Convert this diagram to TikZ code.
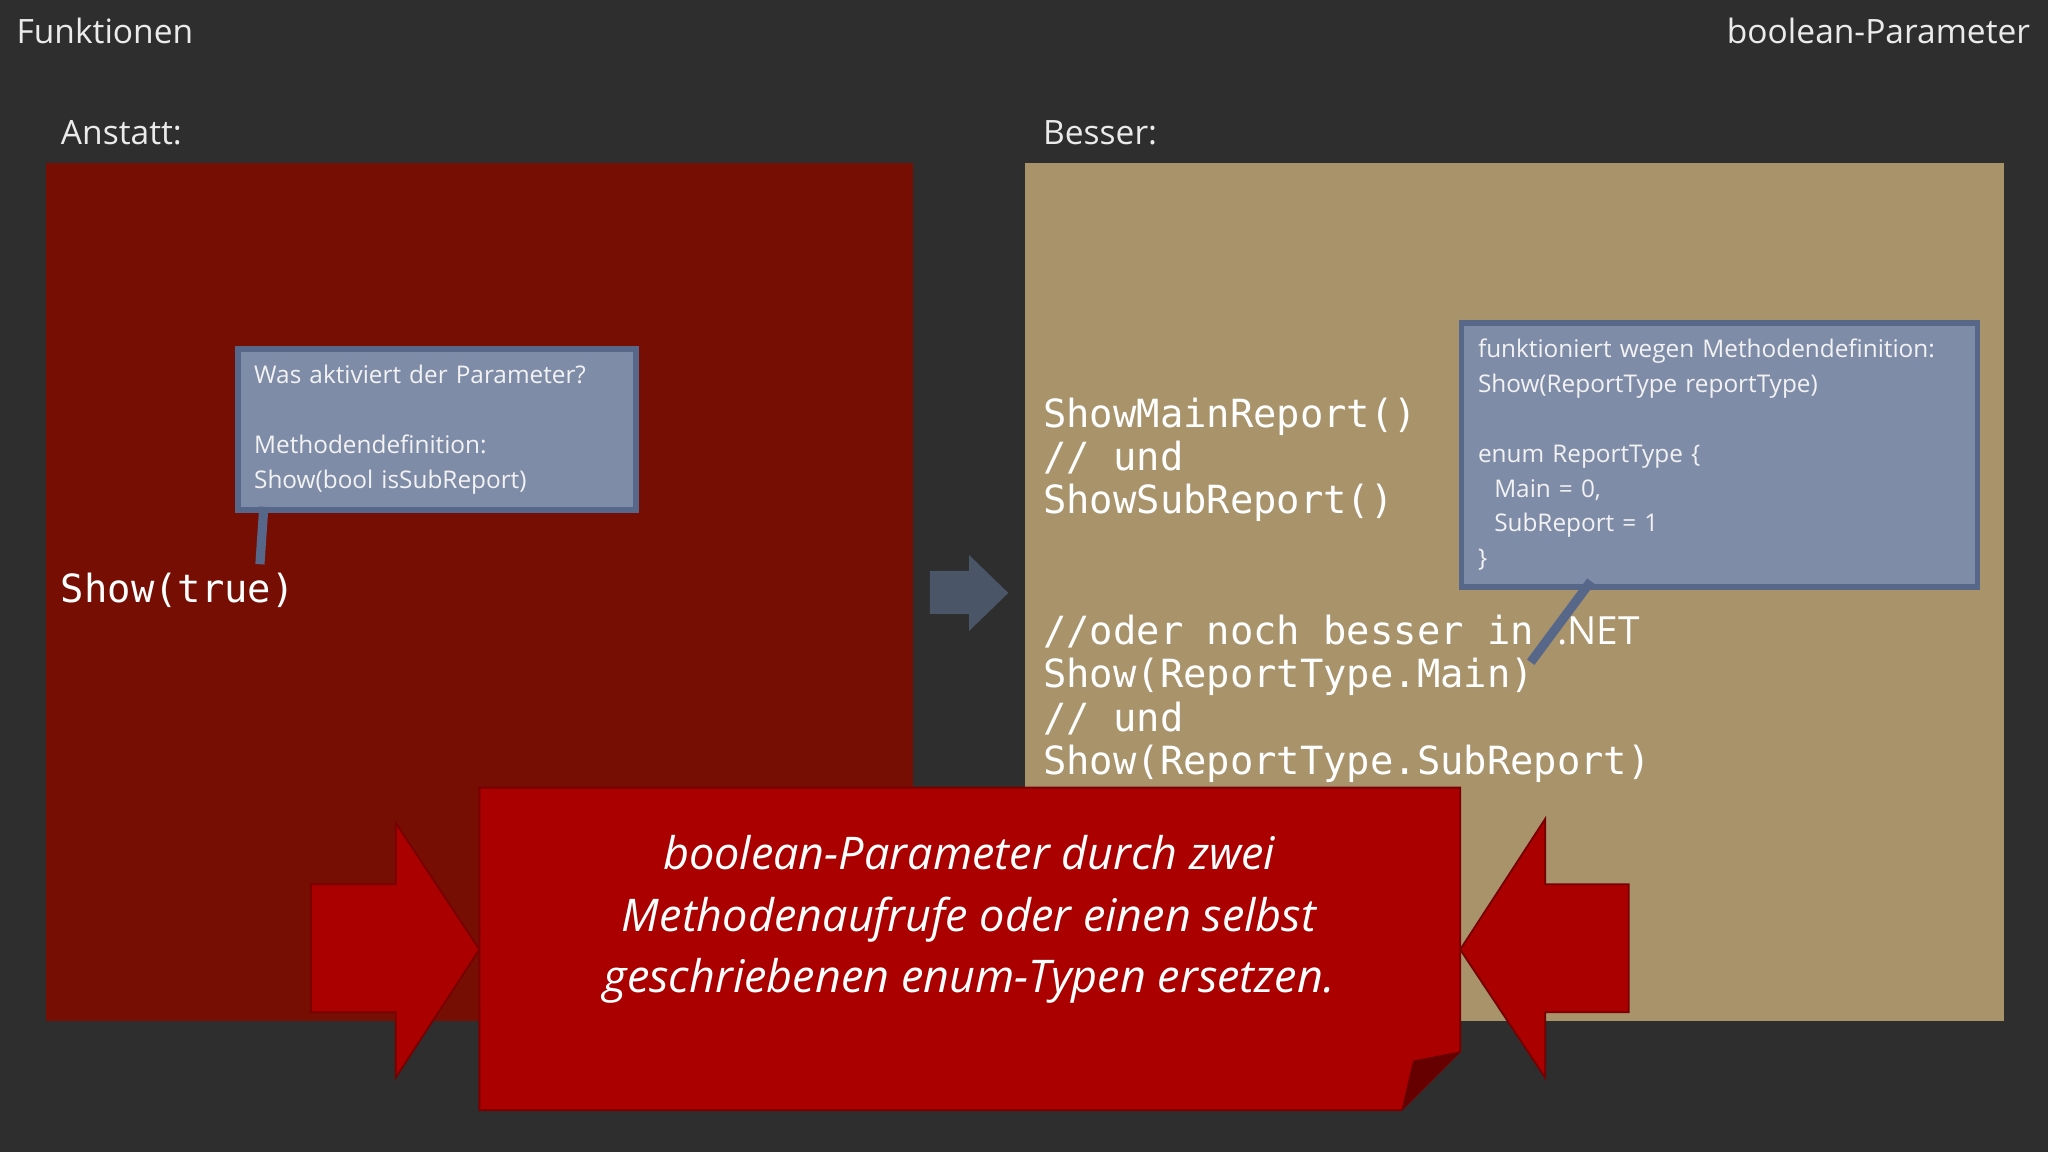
\documentclass[tikz,border=0pt]{standalone}
\usepackage{fontspec}
\setmainfont{Open Sans}
\newfontfamily\codefont{DejaVu Sans Mono}
\begin{document}
\begin{tikzpicture}[x=0.01cm,y=-0.01cm,
  lbl/.style={text=white!92!black,font=\fontsize{7.3pt}{9pt}\selectfont,inner sep=0},
  code/.style={text=white,font=\codefont\fontsize{8.45pt}{9.4pt}\selectfont,inner sep=0,anchor=west,align=left},
  callout/.style={fill=c1,draw=c2,line width=1.2pt,text=white!95!black,font=\fontsize{5.3pt}{7.6pt}\selectfont,align=left,inner sep=3.5pt},
  banner/.style={fill=bred,draw=bred!70!black,line width=0.4pt}]
\definecolor{bg}{HTML}{2E2E2E}
\definecolor{lred}{HTML}{760E04}
\definecolor{tan}{HTML}{A8936B}
\definecolor{c1}{HTML}{7F8CA8}
\definecolor{c2}{HTML}{56678A}
\definecolor{bred}{HTML}{AA0000}
\definecolor{garr}{HTML}{4A5568}
\fill[bg] (0,0) rectangle (1568,882);
\node[lbl,anchor=west] (t1) at (12,24) {Funktionen};
\node[lbl,anchor=east] (t2) at (1555,24) {boolean-Parameter};
\node[lbl,anchor=west] (a1) at (46,102) {Anstatt:};
\node[lbl,anchor=west] (b1) at (798,102) {Besser:};
\fill[lred] (35,125) rectangle (699,782);
\fill[tan] (785,125) rectangle (1534,782);
\fill[garr] (712,437) -- (742,437) -- (742,425) -- (772,454) -- (742,483) -- (742,470) -- (712,470) -- cycle;
% left callout
\node[code] (show) at (46,452) {Show(true)};
\coordinate (s1) at (199,432);
\node[callout,anchor=north west,minimum width=305*0.01cm,minimum height=118*0.01cm,text width=280*0.01cm] (cl1) at (180,265)
 {Was aktiviert der Parameter?\\[7.6pt]Methodendefinition:\\Show(bool isSubReport)};
\draw[c2,line width=2pt] (202,388) -- (s1);
% code
\node[code] (cd1) at (798,352) {ShowMainReport()\\// und\\ShowSubReport()};
\node[code] (cd2) at (798,535) {//oder noch besser in {\fontspec{Open Sans}.NET}\\Show(ReportType.Main)\\// und\\Show(ReportType.SubReport)};
\coordinate (s2) at (1172,507);
\node[callout,anchor=north west,minimum width=395*0.01cm,minimum height=192*0.01cm,text width=370*0.01cm] (cl2) at (1117,245)
 {funktioniert wegen Methodendefinition:\\Show(ReportType reportType)\\[7.6pt]enum ReportType \{\\\ \ Main = 0,\\\ \ SubReport = 1\\\}};
\draw[c2,line width=2pt] (1218,445) -- (s2);
% banner arrows
\fill[bred,draw=bred!70!black] (238,677) -- (303,677) -- (303,630) -- (367,727) -- (303,825) -- (303,775) -- (238,775) -- cycle;
\fill[bred,draw=bred!70!black] (1247,677) -- (1183,677) -- (1183,627) -- (1118,727) -- (1183,825) -- (1183,775) -- (1247,775) -- cycle;
\path[banner] (367,603) -- (1118,603) -- (1118,805) -- (1073,850) -- (367,850) -- cycle;
\fill[bred!60!black] (1118,805) -- (1073,850) -- (1082,812) -- cycle;
\node[text=white,font=\itshape\fontsize{9.8pt}{13.4pt}\selectfont,align=center,inner sep=0] (msg) at (742,704)
 {boolean-Parameter durch zwei\\Methodenaufrufe oder einen selbst\\geschriebenen enum-Typen ersetzen.};
\end{tikzpicture}
\end{document}
